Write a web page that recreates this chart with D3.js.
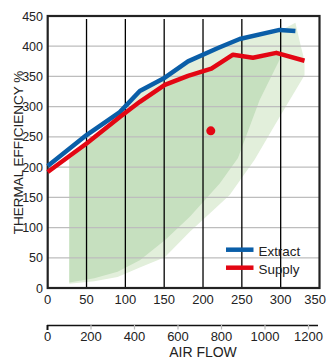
<!DOCTYPE html>
<html><head><meta charset="utf-8">
<script src="https://cdn.jsdelivr.net/npm/d3@7"></script>
<style>body{margin:0;background:#fff}svg{display:block;font-family:"Liberation Sans",Arial,sans-serif}</style>
</head><body><svg id="c" width="327" height="361"></svg>
<script>
const xTicks = [0,50,100,150,200,250,300,350];
const yTicks = [0,50,100,150,200,250,300,350,400,450];
const flowTicks = [0,200,400,600,800,1000,1200];
const extract = [[0,202],[50,253],[92.9,291],[118.6,326],[150.8,348],[180.7,375],[219.3,397],[247.2,412],[298.6,427],[319,425]];
const supply = [[0,192],[50,239],[92.9,283],[118.6,308],[150.8,336],[180.7,351],[210.8,363],[238.6,386],[264.3,381],[294.4,389],[330.7,376]];
const darkZone = [[27.8,213],[50,236],[92.9,280],[118.6,305],[150.8,333],[180.7,348],[210.8,360],[238.6,383],[264.3,378],[294.4,386],[301,384],[272.9,311],[245,215],[221.5,173],[183,118],[150.8,79],[118.6,46],[90,27],[60,16],[27.8,9]];
const lightZone = [[27.8,213],[92.9,283],[118.6,322],[150.8,346],[180.7,373],[219.3,395],[247.2,410],[298.6,425],[319,439],[326,400],[330.7,376],[330.7,352],[298.6,283],[266.4,212],[234.3,154],[210,125],[183,93],[150.8,51],[118.6,34],[90,18],[60,11],[27.8,7]];
const point = [[210,260]];
const legendItems = [{name:"Extract",color:"#0a5ea8"},{name:"Supply",color:"#e30613"}];

const svg = d3.select("#c");
const x = d3.scaleLinear().domain([0,350]).range([47.7,319.5]);
const y = d3.scaleLinear().domain([0,450]).range([288,16]);
const xf = d3.scaleLinear().domain([0,1200]).range([47.5,308.5]);
const line = d3.line().x(d=>x(d[0])).y(d=>y(d[1]));

svg.append("path").attr("d", line(lightZone)+"Z").attr("fill","#e2efdb");
svg.append("path").attr("d", line(darkZone)+"Z").attr("fill","#c6e0bf");

// horizontal grid
svg.append("g").selectAll("line").data(yTicks.filter(v=>v>0&&v<450)).join("line")
  .attr("x1",x(0)).attr("x2",x(350)).attr("y1",d=>y(d)).attr("y2",d=>y(d))
  .attr("stroke","#bdbdbd").attr("stroke-width",1.3);
// vertical lines
svg.append("g").selectAll("line").data(xTicks.filter(v=>v>0&&v<350)).join("line")
  .attr("x1",d=>x(d)).attr("x2",d=>x(d)).attr("y1",19).attr("y2",y(0))
  .attr("stroke","#000").attr("stroke-width",1.3);

// frame
svg.append("rect").attr("x",x(0)).attr("y",y(450)).attr("width",x(350)-x(0)).attr("height",y(0)-y(450))
  .attr("fill","none").attr("stroke","#222").attr("stroke-width",2.2);

// curves
svg.append("path").attr("d",line(extract)).attr("fill","none").attr("stroke",legendItems[0].color).attr("stroke-width",4.5).attr("stroke-linejoin","round");
svg.append("path").attr("d",line(supply)).attr("fill","none").attr("stroke",legendItems[1].color).attr("stroke-width",4.5).attr("stroke-linejoin","round");
svg.selectAll("circle.pt").data(point).join("circle").attr("class","pt")
  .attr("cx",d=>x(d[0])).attr("cy",d=>y(d[1])).attr("r",4.5).attr("fill","#e30613");

// y labels
svg.append("g").selectAll("text").data(yTicks).join("text")
  .attr("x",43).attr("y",d=>y(d)+4.5).attr("text-anchor","end")
  .attr("font-size",12.5).attr("fill","#222").text(d=>d);
// x labels
svg.append("g").selectAll("text").data(xTicks).join("text")
  .attr("x",d=>d===350?326:x(d)).attr("y",304).attr("text-anchor",d=>d===350?"end":"middle")
  .attr("font-size",13).attr("fill","#222").text(d=>d);

// flow axis
const fa = svg.append("g");
fa.append("line").attr("x1",47).attr("x2",318).attr("y1",325.5).attr("y2",325.5).attr("stroke","#111").attr("stroke-width",1.6);
fa.selectAll("line.t").data(flowTicks).join("line").attr("class","t")
  .attr("x1",d=>xf(d)).attr("x2",d=>xf(d)).attr("y1",325).attr("y2",d=>d===0?330:329.5)
  .attr("stroke",d=>d===0?"#111":"#bbb").attr("stroke-width",d=>d===0?2:1.2);
fa.selectAll("text").data(flowTicks).join("text")
  .attr("x",d=>xf(d)).attr("y",340.5).attr("text-anchor","middle")
  .attr("font-size",13).attr("fill","#222").text(d=>d);
svg.append("text").attr("x",203).attr("y",356.5).attr("text-anchor","middle")
  .attr("font-size",14).attr("fill","#222").text("AIR FLOW");
svg.append("text").attr("transform","translate(22.5,152.5) rotate(-90)").attr("text-anchor","middle")
  .attr("font-size",13.5).attr("fill","#222").text("THERMAL EFFICIENCY %");

// legend
const lg = svg.append("g").selectAll("g").data(legendItems).join("g")
  .attr("transform",(d,i)=>`translate(226,${249.7+i*18})`);
lg.append("line").attr("x1",0).attr("x2",27.5).attr("stroke",d=>d.color).attr("stroke-width",4.5);
lg.append("text").attr("x",32.5).attr("y",6).attr("font-size",13.4).attr("fill","#222").text(d=>d.name);
</script></body></html>
